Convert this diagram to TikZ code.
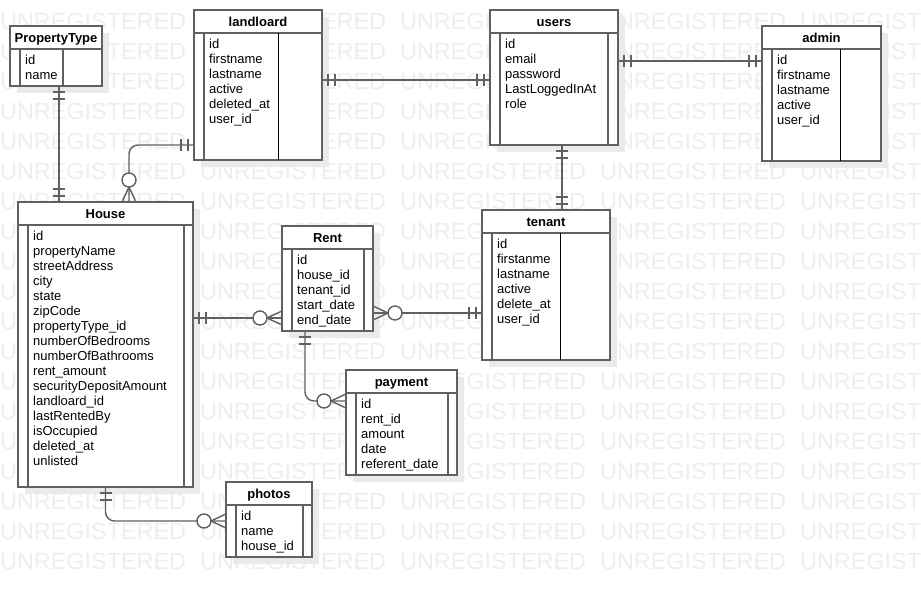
\documentclass[tikz,border=0pt]{standalone}
\usepackage{fontspec}
\setmainfont{Liberation Sans}
\usetikzlibrary{shadows}
\definecolor{lineg}{RGB}{96,96,96}
\definecolor{wmgray}{RGB}{238,238,238}
\definecolor{shadowg}{RGB}{234,234,234}

\tikzset{
  tbl/.style={draw=lineg, line width=1.4pt, fill=white, anchor=north west,
    inner sep=0pt, outer sep=0pt,
    drop shadow={shadow xshift=7pt, shadow yshift=-7pt, fill=shadowg, opacity=1}},
  tblline/.style={draw=lineg, line width=1.4pt},
  divline/.style={draw=black, line width=0.9pt},
  head/.style={anchor=base, inner sep=0pt, font=\fontsize{13pt}{15pt}\selectfont\bfseries},
  attr/.style={anchor=base west, inner sep=0pt, font=\fontsize{13pt}{15pt}\selectfont},
  wm/.style={anchor=base west, inner sep=0pt, text=wmgray, font=\fontsize{23.4pt}{25pt}\selectfont},
  rel/.style={draw=lineg, line width=1.4pt},
  pics/onlyone/.style={code={\draw[rel] (6,-6) -- (6,6) (13,-6) -- (13,6);}},
  pics/zeromany/.style={code={\draw[rel] (0,-7) -- (15,0) -- (0,7);
    \draw[rel, fill=white] (22,0) circle[radius=7pt];}},
}

% name, x, y, width, height, title, divider offset, divider style, fields
\newcommand{\ertable}[9]{%
  \node[tbl, minimum width=#4pt, minimum height=#5pt] (#1) at (#2,#3) {};
  \node[head] (#1-title) at ([yshift=-16pt]#1.north) {#6};
  \draw[tblline] ([yshift=-23pt]#1.north west) -- ([yshift=-23pt]#1.north east);
  \draw[tblline] ([shift={(10pt,-23pt)}]#1.north west) -- ([xshift=10pt]#1.south west);
  \draw[#8] ([shift={(#7pt,-23pt)}]#1.north west) -- ([xshift=#7pt]#1.south west);
  \foreach \fld [count=\i from 0] in {#9}
    \node[attr] (#1-\i) at ([shift={(15pt,{-38pt-15pt*\i})}]#1.north west) {\fld};
}

\begin{document}
\begin{tikzpicture}[x=1pt, y=-1pt]
\useasboundingbox (0,0) rectangle (921,597);
\clip (0,0) rectangle (921,597);
\fill[white] (0,0) rectangle (921,597);

% watermark
\foreach \r in {0,...,18}
\foreach \c in {0,...,4}
{
\node[wm] (wm-\r-\c) at (200*\c, 29+30*\r) {UNREGISTERED};
}

% tables
\ertable{proptype}{10}{26}{92}{60}{PropertyType}{53}{tblline}{id,name}
\ertable{landloard}{194}{10}{128}{150}{landloard}{84}{divline}{id,firstname,lastname,active,deleted\_at,user\_id}
\ertable{users}{490}{10}{128}{135}{users}{118}{tblline}{id,email,password,LastLoggedInAt,role}
\ertable{admin}{762}{26}{119}{135}{admin}{78}{divline}{id,firstname,lastname,active,user\_id}
\ertable{house}{18}{202}{175}{285}{House}{166}{tblline}{id,propertyName,streetAddress,city,state,zipCode,propertyType\_id,numberOfBedrooms,numberOfBathrooms,rent\_amount,securityDepositAmount,landloard\_id,lastRentedBy,isOccupied,deleted\_at,unlisted}
\ertable{rent}{282}{226}{91}{105}{Rent}{82}{tblline}{id,house\_id,tenant\_id,start\_date,end\_date}
\ertable{tenant}{482}{210}{128}{150}{tenant}{78}{divline}{id,firstanme,lastname,active,delete\_at,user\_id}
\ertable{payment}{346}{370}{111}{105}{payment}{102}{tblline}{id,rent\_id,amount,date,referent\_date}
\ertable{photos}{226}{482}{86}{75}{photos}{77}{tblline}{id,name,house\_id}

% PropertyType - House
\draw[rel] ([xshift=3pt]proptype.south) coordinate (pt-h) -- (pt-h |- house.north) coordinate (h-pt);
\pic[rotate=-90] at (pt-h) {onlyone};
\pic[rotate=90] at (h-pt) {onlyone};

% landloard - House
\draw[rel, rounded corners=9pt] ([yshift=15pt]landloard.south west) coordinate (ll-h) -| ([xshift=23.5pt]house.north) coordinate (h-ll);
\pic[rotate=180] at (ll-h) {onlyone};
\pic[rotate=90] at (h-ll) {zeromany};

% landloard - users
\draw[rel] ([yshift=5pt]landloard.east) coordinate (ll-u) -- (ll-u -| users.west) coordinate (u-ll);
\pic at (ll-u) {onlyone};
\pic[rotate=180] at (u-ll) {onlyone};

% users - admin
\draw[rel] ([yshift=16.5pt]users.east) coordinate (u-a) -- (u-a -| admin.west) coordinate (a-u);
\pic at (u-a) {onlyone};
\pic[rotate=180] at (a-u) {onlyone};

% users - tenant
\draw[rel] ([xshift=8pt]users.south) coordinate (u-t) -- (u-t |- tenant.north) coordinate (t-u);
\pic[rotate=-90] at (u-t) {onlyone};
\pic[rotate=90] at (t-u) {onlyone};

% House - Rent
\draw[rel] ([yshift=26.5pt]house.east) coordinate (h-r) -- (h-r -| rent.west) coordinate (r-h);
\pic at (h-r) {onlyone};
\pic[rotate=180] at (r-h) {zeromany};

% Rent - tenant
\draw[rel] ([yshift=-34.5pt]rent.east) coordinate (r-t) -- (r-t -| tenant.west) coordinate (t-r);
\pic at (r-t) {zeromany};
\pic[rotate=180] at (t-r) {onlyone};

% Rent - payment
\draw[rel, rounded corners=9pt] ([xshift=-22.5pt]rent.south) coordinate (r-p) |- ([yshift=21.5pt]payment.west) coordinate (p-r);
\pic[rotate=-90] at (r-p) {onlyone};
\pic[rotate=180] at (p-r) {zeromany};

% House - photos
\draw[rel, rounded corners=9pt] (house.south) coordinate (h-p) |- ([yshift=-1.5pt]photos.west) coordinate (p-h);
\pic[rotate=-90] at (h-p) {onlyone};
\pic[rotate=180] at (p-h) {zeromany};
\end{tikzpicture}
\end{document}
